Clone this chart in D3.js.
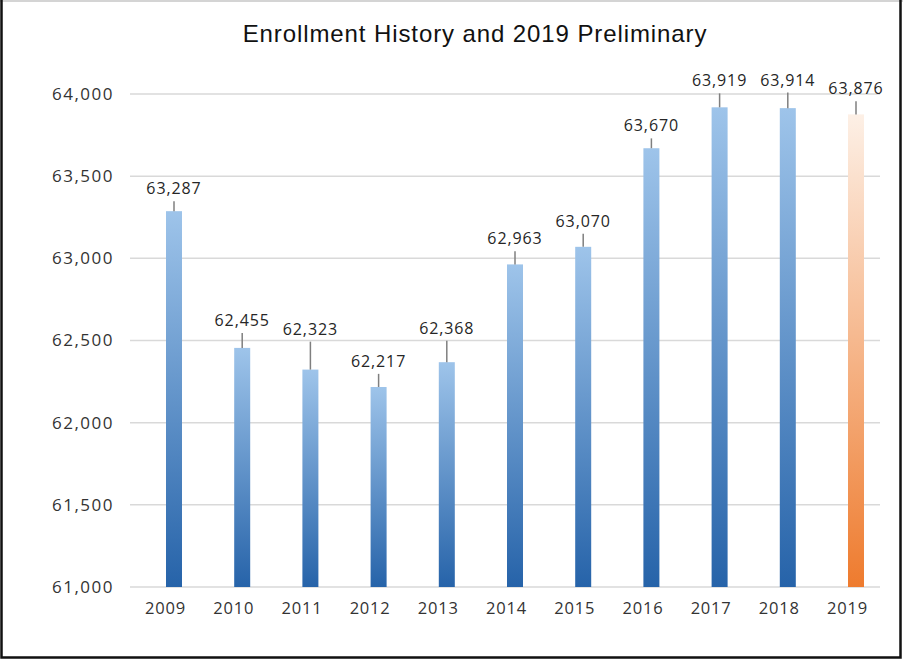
<!DOCTYPE html>
<html>
<head>
<meta charset="utf-8">
<script src="https://cdn.jsdelivr.net/npm/d3@7"></script>
<style>
    body { margin: 0; background: #fff; }
    svg { display: block; }
</style>
</head>
<body>
<svg id="chart" width="903" height="659"></svg>
<script>
// values
const years = ["2009", "2010", "2011", "2012", "2013", "2014", "2015", "2016", "2017", "2018", "2019"];
const enrollment = [63287, 62455, 62323, 62217, 62368, 62963, 63070, 63670, 63919, 63914, 63876];
// length of the thin line above each bar (plus error), in students
const errPlus = [60, 90, 170, 80, 130, 80, 80, 60, 85, 95, 80];
const yTicks = [61000, 61500, 62000, 62500, 63000, 63500, 64000];
const preliminary = "2019";

const svg = d3.select("#chart");
const width = 903, height = 659;

// frame round the picture
svg.append("rect").attr("x", 0).attr("y", 0).attr("width", width).attr("height", height).attr("fill", "#fff");
svg.append("line").attr("x1", 0).attr("x2", width).attr("y1", 1).attr("y2", 1)
    .attr("stroke", "#d4d4d4").attr("stroke-width", 2);
svg.append("path")
    .attr("d", "M1.5,0 V657.5 H900.5 V0")
    .attr("fill", "none").attr("stroke", "#111").attr("stroke-width", 2.5);

const x = d3.scalePoint().domain(years).range([174, 856]);
const y = d3.scaleLinear().domain([61000, 64000]).range([587, 94]);
const barWidth = 16;

// gradients
const defs = svg.append("defs");
function addGradient(id, top, bottom) {
    const g = defs.append("linearGradient").attr("id", id)
        .attr("x1", 0).attr("y1", 0).attr("x2", 0).attr("y2", 1);
    g.append("stop").attr("offset", "0%").attr("stop-color", top);
    g.append("stop").attr("offset", "100%").attr("stop-color", bottom);
}
addGradient("blueGrad", "#9ec4ea", "#2663a9");
addGradient("orangeGrad", "#fdf0e6", "#ee7b2e");

// title
svg.append("text")
    .attr("x", 475).attr("y", 42)
    .attr("text-anchor", "middle")
    .style("font-family", "Liberation Sans, Arial, sans-serif")
    .style("font-size", "24px")
    .style("letter-spacing", "0.9px")
    .attr("fill", "#111")
    .text("Enrollment History and 2019 Preliminary");

// gridlines
svg.append("g")
    .selectAll("line")
    .data(yTicks)
    .enter().append("line")
    .attr("x1", 130).attr("x2", 880)
    .attr("y1", d => y(d)).attr("y2", d => y(d))
    .attr("stroke", "#d9d9d9").attr("stroke-width", 1.5);

// y axis labels
const yAxis = d3.axisLeft(y).tickValues(yTicks).tickFormat(d3.format(",")).tickSize(0).tickPadding(0);
const yG = svg.append("g").attr("transform", "translate(114,0)").call(yAxis);
yG.select(".domain").remove();
yG.selectAll("text")
    .style("font-family", "Open Sans, sans-serif")
    .style("font-size", "17px")
    .style("letter-spacing", "1.5px")
    .attr("fill", "#333");

// x axis labels (sit a little left of the bars in the original)
const xAxis = d3.axisBottom(x).tickSize(0).tickPadding(0);
const xG = svg.append("g").attr("transform", "translate(-9,602)").call(xAxis);
xG.select(".domain").remove();
xG.selectAll("text")
    .style("font-family", "Open Sans, sans-serif")
    .style("font-size", "16.5px")
    .style("letter-spacing", "0.8px")
    .attr("fill", "#333");

const data = years.map((yr, i) => ({ year: yr, value: enrollment[i], err: errPlus[i] }));

// bars
svg.append("g")
    .selectAll("rect")
    .data(data)
    .enter().append("rect")
    .attr("x", d => x(d.year) - barWidth / 2)
    .attr("width", barWidth)
    .attr("y", d => y(d.value))
    .attr("height", d => y(61000) - y(d.value))
    .attr("fill", d => d.year === preliminary ? "url(#orangeGrad)" : "url(#blueGrad)");

// thin lines above the bars
svg.append("g")
    .selectAll("line")
    .data(data)
    .enter().append("line")
    .attr("x1", d => x(d.year)).attr("x2", d => x(d.year))
    .attr("y1", d => y(d.value)).attr("y2", d => y(d.value + d.err))
    .attr("stroke", "#7f7f7f").attr("stroke-width", 1.5);

// value labels
svg.append("g")
    .selectAll("text")
    .data(data)
    .enter().append("text")
    .attr("x", d => x(d.year))
    .attr("y", d => y(d.value + d.err) - 7)
    .attr("text-anchor", "middle")
    .style("font-family", "Open Sans, sans-serif")
    .style("font-size", "16px")
    .style("letter-spacing", "0.9px")
    .attr("fill", "#262626")
    .text(d => d3.format(",")(d.value));
</script>
</body>
</html>
